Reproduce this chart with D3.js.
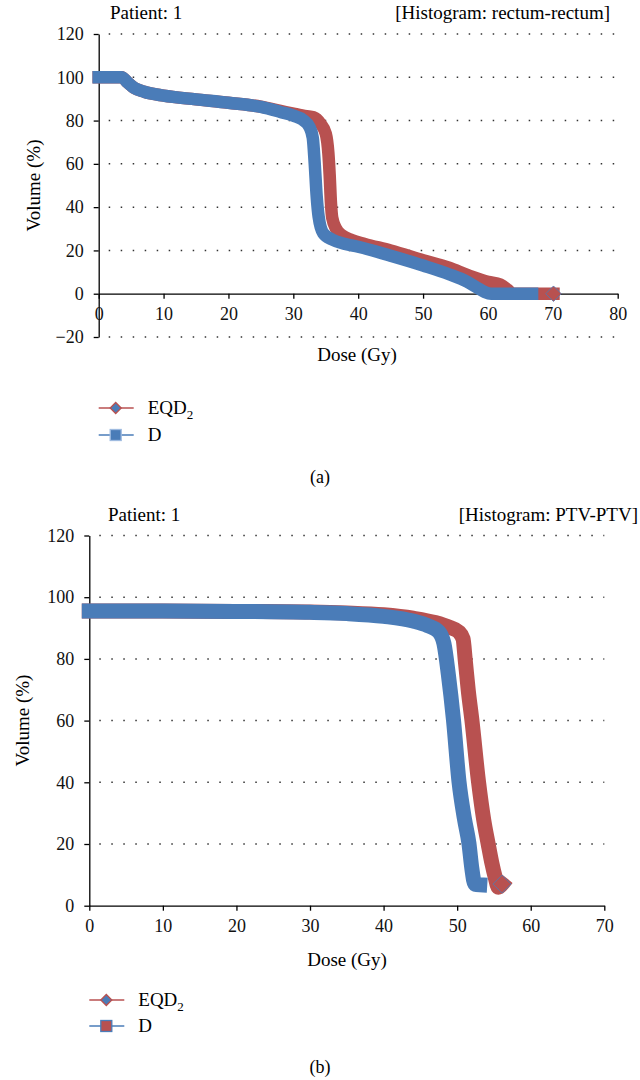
<!DOCTYPE html>
<html>
<head>
<meta charset="utf-8">
<script src="https://cdn.jsdelivr.net/npm/d3@7"></script>
<style>
  body { margin: 0; background: #fff; }
  svg, svg text { font-family: 'Liberation Serif', 'Times New Roman', serif; }
</style>
</head>
<body>
<div id="chart"></div>
<script>
// ---- data ----
// (a) rectum-rectum
const rectumTicksX = [0, 10, 20, 30, 40, 50, 60, 70, 80];
const rectumTicksY = [-20, 0, 20, 40, 60, 80, 100, 120];
const rectumDoseD = [0, 3.5, 4.5, 5.5, 7, 10, 15, 20, 25, 28, 30, 31.5, 32.5, 33.0, 33.3, 33.6, 33.9, 34.6, 36, 38, 40, 45, 50, 54, 56.8, 58.5, 59.5, 60.5, 66.8];
const rectumVolD  = [100, 100, 97.5, 95, 93.3, 91.5, 89.8, 88.2, 86.3, 84, 82.3, 80.3, 77, 72, 60, 45, 35.6, 28, 25, 23, 21.7, 17.5, 13, 9, 5.5, 2.5, 0.8, 0, 0];
const rectumDoseEQD2 = [0, 3.5, 4.5, 5.5, 7, 10, 15, 20, 25, 28, 30, 32, 33.1, 34.2, 35.0, 35.4, 35.6, 35.8, 36.0, 36.6, 37.5, 39, 41, 45, 50, 54, 57, 60, 61.9, 63, 63.8, 70.1];
const rectumVolEQD2  = [100, 100, 97.5, 95, 93.3, 91.5, 89.8, 88.2, 86.4, 84.5, 83.2, 82, 81.5, 78.5, 74, 65, 55, 42, 35, 30, 27, 24.8, 23, 20, 15.5, 12, 8.5, 5.5, 4.3, 2, 0, 0];

// (b) PTV-PTV
const ptvTicksX = [0, 10, 20, 30, 40, 50, 60, 70];
const ptvTicksY = [0, 20, 40, 60, 80, 100, 120];
const ptvDoseD = [0, 10, 20, 30, 35, 40, 44, 46, 47.5, 48.2, 48.8, 49.5, 50.25, 51.0, 51.6, 52.0, 52.4, 53.07];
const ptvVolD  = [95.5, 95.5, 95.4, 95.1, 94.7, 93.8, 92.3, 90.8, 88.8, 85, 75, 60.2, 40.2, 28, 20.2, 12, 7, 6.8];
const ptvDoseEQD2 = [0, 10, 20, 30, 35, 40, 44, 47, 49, 50.2, 50.8, 51.1, 51.5, 52.0, 52.9, 53.6, 54.2, 54.7, 55.2, 55.6, 56.1];
const ptvVolEQD2  = [95.5, 95.5, 95.4, 95.2, 94.9, 94.3, 93.2, 91.8, 90.2, 88.8, 86.5, 79.6, 70, 60.2, 40.2, 28, 20.2, 14, 9, 6, 7];

const blue = "#4a7cb8", red = "#b85150";
const serif = "'Liberation Serif', 'Times New Roman', serif";

const svg = d3.select("#chart").append("svg")
    .attr("width", 640).attr("height", 1080)
    .attr("font-family", serif);

function drawPanel(cfg) {
    const x = d3.scaleLinear().domain(cfg.xDomain).range(cfg.xRange);
    const y = d3.scaleLinear().domain(cfg.yDomain).range(cfg.yRange);
    const g = svg.append("g");

    // dotted grid lines
    g.selectAll(".grid")
        .data(cfg.ticksY.filter(v => v !== 0))
        .join("line")
        .attr("x1", x(0) + 10).attr("x2", x(cfg.xDomain[1]))
        .attr("y1", d => y(d)).attr("y2", d => y(d))
        .attr("stroke", "#333").attr("stroke-width", 1.5)
        .attr("stroke-dasharray", "1.5,10.5");

    // y axis
    const ya = g.append("g")
        .attr("transform", `translate(${x(0)},0)`)
        .call(d3.axisLeft(y).tickValues(cfg.ticksY).tickSize(5).tickSizeOuter(0).tickPadding(10)
            .tickFormat(d => d < 0 ? "\u2212" + Math.abs(d) : d));
    // x axis on the zero line
    const xa = g.append("g")
        .attr("transform", `translate(0,${y(0)})`)
        .call(d3.axisBottom(x).tickValues(cfg.ticksX).tickSize(5).tickSizeOuter(0).tickPadding(cfg.xPad));
    [ya, xa].forEach(a => {
        a.attr("font-family", serif).attr("font-size", 18);
        a.selectAll("path, line").attr("stroke", "#000").attr("stroke-width", 1.3);
        a.selectAll("text").attr("font-family", serif).attr("fill", "#111");
    });

    // curves: EQD2 under D
    const line = d3.line().x(d => x(d[0])).y(d => y(d[1])).curve(d3.curveMonotoneX);
    const eq = cfg.doseEQD2.map((d, i) => [d, cfg.volEQD2[i]]);
    const dd = cfg.doseD.map((d, i) => [d, cfg.volD[i]]);
    g.append("path").attr("d", line(eq))
        .attr("fill", "none").attr("stroke", red).attr("stroke-width", cfg.band)
        .attr("stroke-linejoin", "round").attr("stroke-linecap", "square");
    const last = eq[eq.length - 1];
    const h = cfg.band / 2 + 1.5;
    g.append("path")
        .attr("d", `M${x(last[0]) - h},${y(last[1])} L${x(last[0])},${y(last[1]) - h} L${x(last[0]) + h},${y(last[1])} L${x(last[0])},${y(last[1]) + h}Z`)
        .attr("fill", red).attr("stroke", blue).attr("stroke-width", 0.8);
    g.append("path").attr("d", line(dd))
        .attr("fill", "none").attr("stroke", blue).attr("stroke-width", cfg.band)
        .attr("stroke-linejoin", "round").attr("stroke-linecap", "square");

    // titles
    g.append("text").attr("x", cfg.titleLeftX).attr("y", cfg.titleY)
        .attr("font-size", 19).text("Patient: 1");
    g.append("text").attr("x", cfg.titleRightX).attr("y", cfg.titleY)
        .attr("text-anchor", "end").attr("font-size", 19).text(cfg.title);

    // axis titles
    g.append("text").attr("x", cfg.doseLabelX).attr("y", cfg.doseLabelY)
        .attr("text-anchor", "middle").attr("font-size", 19).text("Dose (Gy)");
    g.append("text")
        .attr("transform", `translate(${cfg.volLabelX},${(y(cfg.yDomain[0]) + y(cfg.yDomain[1])) / 2}) rotate(-90)`)
        .attr("text-anchor", "middle").attr("font-size", 19).text("Volume (%)");

    // legend
    const lx = x(0), items = [
        {name: "EQD", sub: "2", line: red, shape: "diamond", fill: blue, stroke: red, y: cfg.legendY[0]},
        {name: "D", sub: null, line: blue, shape: "square", fill: cfg.dSquareFill, stroke: cfg.dSquareStroke, y: cfg.legendY[1]}
    ];
    items.forEach(it => {
        g.append("line").attr("x1", lx).attr("x2", lx + 35).attr("y1", it.y).attr("y2", it.y)
            .attr("stroke", it.line).attr("stroke-width", 1.6);
        const cx = lx + 17;
        if (it.shape === "diamond") {
            g.append("path").attr("d", `M${cx - 5.5},${it.y} L${cx},${it.y - 5.5} L${cx + 5.5},${it.y} L${cx},${it.y + 5.5}Z`)
                .attr("fill", it.fill).attr("stroke", it.stroke).attr("stroke-width", 1.3);
        } else {
            g.append("rect").attr("x", cx - 5.5).attr("y", it.y - 5.5).attr("width", 11).attr("height", 11)
                .attr("fill", it.fill).attr("stroke", it.stroke).attr("stroke-width", 1.3);
        }
        const t = g.append("text").attr("x", lx + 49).attr("y", it.y + 6).attr("font-size", 19).text(it.name);
        if (it.sub) t.append("tspan").attr("dy", 5).attr("font-size", 13).text(it.sub);
    });

    g.append("text").attr("x", 320).attr("y", cfg.captionY)
        .attr("text-anchor", "middle").attr("font-size", 18).text(cfg.caption);
}

drawPanel({
    xDomain: [0, 80], xRange: [98.7, 617.7],
    yDomain: [-20, 120], yRange: [337, 34],
    ticksX: rectumTicksX, ticksY: rectumTicksY, xPad: 9,
    doseD: rectumDoseD, volD: rectumVolD, doseEQD2: rectumDoseEQD2, volEQD2: rectumVolEQD2,
    band: 12.5,
    title: "[Histogram: rectum-rectum]", titleLeftX: 110, titleRightX: 610, titleY: 19,
    doseLabelX: 357, doseLabelY: 361, volLabelX: 40,
    legendY: [408, 435], dSquareFill: blue, dSquareStroke: "#9fbbe0",
    caption: "(a)", captionY: 483
});

drawPanel({
    xDomain: [0, 70], xRange: [89.3, 604.3],
    yDomain: [0, 120], yRange: [905.7, 535.5],
    ticksX: ptvTicksX, ticksY: ptvTicksY, xPad: 9,
    doseD: ptvDoseD, volD: ptvVolD, doseEQD2: ptvDoseEQD2, volEQD2: ptvVolEQD2,
    band: 15,
    title: "[Histogram: PTV-PTV]", titleLeftX: 108, titleRightX: 638, titleY: 521,
    doseLabelX: 347, doseLabelY: 966, volLabelX: 29,
    legendY: [1000, 1026], dSquareFill: red, dSquareStroke: blue,
    caption: "(b)", captionY: 1073
});
</script>
</body>
</html>
